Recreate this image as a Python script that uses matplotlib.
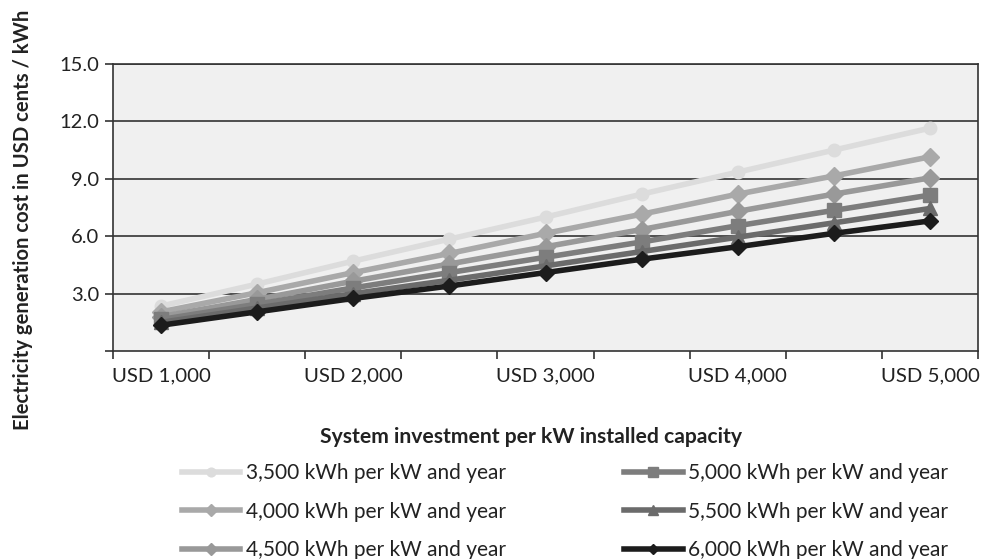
import matplotlib.pyplot as plt
from matplotlib.lines import Line2D

plt.rcParams['font.family'] = ['Lato', 'DejaVu Sans']

investment = ["USD 1,000", "USD 1,500", "USD 2,000", "USD 2,500", "USD 3,000",
              "USD 3,500", "USD 4,000", "USD 4,500", "USD 5,000"]
labels = ["3,500 kWh per kW and year", "4,000 kWh per kW and year",
          "4,500 kWh per kW and year", "5,000 kWh per kW and year",
          "5,500 kWh per kW and year", "6,000 kWh per kW and year"]
y3500 = [2.35, 3.5, 4.7, 5.85, 7.0, 8.2, 9.35, 10.5, 11.65]
y4000 = [2.05, 3.05, 4.1, 5.1, 6.15, 7.15, 8.2, 9.15, 10.15]
y4500 = [1.8, 2.7, 3.65, 4.55, 5.45, 6.35, 7.3, 8.2, 9.05]
y5000 = [1.65, 2.45, 3.3, 4.1, 4.9, 5.7, 6.55, 7.35, 8.15]
y5500 = [1.5, 2.25, 3.0, 3.7, 4.45, 5.2, 5.95, 6.7, 7.45]
y6000 = [1.35, 2.05, 2.75, 3.4, 4.1, 4.8, 5.45, 6.15, 6.8]

series = [y3500, y4000, y4500, y5000, y5500, y6000]
colors = ["#dcdcdc", "#a9a9a9", "#999999", "#7d7d7d", "#6b6b6b", "#1c1c1c"]
markers = ["o", "D", "D", "s", "^", "D"]
msizes = [9, 9, 9, 10, 10, 8]

fig = plt.figure(figsize=(9.81, 5.59), dpi=100)
ax = fig.add_axes([0.1152, 0.372, 0.8818, 0.5135])
ax.set_facecolor("#f0f0f0")

x = list(range(len(investment)))
for ys, c, m, ms, lab in zip(series, colors, markers, msizes, labels):
    ax.plot(x, ys, color=c, lw=4, marker=m, ms=ms, mec=c, mfc=c, label=lab, zorder=3)

ax.set_xlim(-0.5, 8.5)
ax.set_ylim(0, 15)
ax.set_yticks([3, 6, 9, 12, 15])
ax.set_yticklabels(["3.0", "6.0", "9.0", "12.0", "15.0"], fontsize=14.5, color="#222222")
ax.set_yticks([0], minor=True)
ax.yaxis.grid(True, color="#333333", lw=1.2)
ax.set_axisbelow(True)

ax.set_xticks(x[::2])
ax.set_xticklabels(investment[::2], fontsize=14.7, color="#222222")
ax.set_xticks([i - 0.5 for i in range(len(investment) + 1)], minor=True)
ax.tick_params(axis='x', which='major', length=0, pad=12)
ax.tick_params(axis='x', which='minor', length=6, width=1.2, color="#333333")
ax.tick_params(axis='y', which='both', length=6, width=1.2, color="#333333", pad=4)

for s in ax.spines.values():
    s.set_color("#333333")
    s.set_linewidth(1.2)

fig.text(0.5413, 1 - 437 / 559, "System investment per kW installed capacity",
         fontsize=15.2, fontweight='bold', color="#222222", ha='center', va='center')
fig.text(23 / 981, 1 - 220 / 559, "Electricity generation cost in USD cents / kWh",
         rotation=90, fontsize=14.6, fontweight='bold', color="#222222",
         ha='center', va='center')

handles = [Line2D([], [], color=c, lw=4, marker=m, ms=ms * 0.7, mec=c, mfc=c)
           for c, m, ms in zip(colors, markers, msizes)]
fig.legend(handles, labels, loc='upper left', bbox_to_anchor=(182 / 981, 1 - 463 / 559),
           ncol=2, frameon=False, fontsize=15, handlelength=2.8, handletextpad=0.25,
           columnspacing=5.7, labelspacing=0.9, borderpad=0, borderaxespad=0,
           labelcolor="#222222")

fig.savefig("out.png", dpi=100)
